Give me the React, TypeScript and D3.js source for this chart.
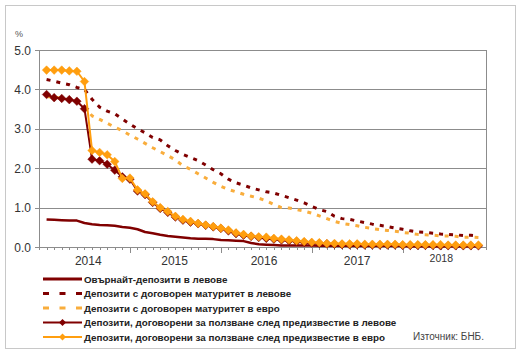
import React from "react";
import * as d3 from "d3";

// Months: Jan 2014 .. Oct 2018 (58 monthly observations)
const months: Date[] = d3.timeMonths(new Date(2014, 0, 1), new Date(2018, 10, 1));

const overnightBGN = [
  0.70, 0.69, 0.68, 0.67, 0.67, 0.61, 0.58, 0.56, 0.55, 0.54, 0.51, 0.49,
  0.45, 0.38, 0.35, 0.31, 0.28, 0.26, 0.24, 0.22, 0.21, 0.21, 0.20, 0.18,
  0.17, 0.16, 0.15, 0.10, 0.07, 0.06, 0.05, 0.04, 0.04, 0.04, 0.04, 0.04,
  0.03, 0.03, 0.03, 0.03, 0.03, 0.03, 0.03, 0.03, 0.03, 0.03, 0.03, 0.03,
  0.02, 0.02, 0.02, 0.02, 0.02, 0.02, 0.02, 0.02, 0.02, 0.02,
];

const termBGN = [
  4.25, 4.21, 4.16, 4.12, 4.05, 4.00, 3.75, 3.55, 3.45, 3.38, 3.25, 3.12,
  3.00, 2.90, 2.78, 2.72, 2.57, 2.45, 2.35, 2.27, 2.19, 2.08, 1.96, 1.86,
  1.72, 1.63, 1.57, 1.50, 1.45, 1.40, 1.37, 1.31, 1.25, 1.19, 1.12, 1.03,
  0.95, 0.90, 0.78, 0.72, 0.70, 0.66, 0.62, 0.58, 0.55, 0.52, 0.48, 0.45,
  0.41, 0.38, 0.37, 0.35, 0.33, 0.32, 0.31, 0.29, 0.30, 0.28,
];

const termEUR = [
  3.82, 3.80, 3.78, 3.74, 3.72, 3.55, 3.33, 3.24, 3.14, 3.04, 2.95, 2.84,
  2.74, 2.63, 2.52, 2.42, 2.32, 2.21, 2.06, 1.97, 1.86, 1.75, 1.64, 1.54,
  1.46, 1.40, 1.34, 1.29, 1.24, 1.17, 1.08, 1.00, 0.99, 0.95, 0.91, 0.86,
  0.79, 0.72, 0.65, 0.60, 0.57, 0.54, 0.50, 0.47, 0.44, 0.42, 0.40, 0.37,
  0.35, 0.32, 0.31, 0.30, 0.28, 0.28, 0.27, 0.25, 0.25, 0.24,
];

const noticeBGN = [
  3.87, 3.79, 3.77, 3.74, 3.70, 3.51, 2.23, 2.19, 2.10, 1.95, 1.78, 1.72,
  1.42, 1.33, 1.13, 0.98, 0.88, 0.76, 0.68, 0.63, 0.59, 0.55, 0.51, 0.47,
  0.41, 0.34, 0.30, 0.27, 0.24, 0.22, 0.20, 0.18, 0.16, 0.14, 0.12, 0.10,
  0.09, 0.08, 0.07, 0.06, 0.06, 0.06, 0.05, 0.05, 0.05, 0.05, 0.05, 0.04,
  0.04, 0.04, 0.04, 0.04, 0.03, 0.03, 0.03, 0.03, 0.03, 0.03,
];

const noticeEUR = [
  4.49, 4.49, 4.49, 4.47, 4.46, 4.20, 2.45, 2.40, 2.34, 2.17, 1.74, 1.75,
  1.45, 1.35, 1.15, 1.00, 0.90, 0.78, 0.70, 0.65, 0.60, 0.56, 0.52, 0.48,
  0.43, 0.36, 0.32, 0.28, 0.26, 0.25, 0.22, 0.20, 0.18, 0.16, 0.14, 0.12,
  0.11, 0.09, 0.09, 0.08, 0.08, 0.08, 0.07, 0.07, 0.07, 0.07, 0.07, 0.06,
  0.06, 0.06, 0.06, 0.06, 0.06, 0.05, 0.05, 0.05, 0.05, 0.05,
];

const yTicks = [0, 1, 2, 3, 4, 5];
const yearLabels = ["2014", "2015", "2016", "2017", "2018"];
const yearLabelPos = [5.5, 16.9, 28.7, 41.0, 52.1]; // in month-index units

const legendNames = [
  "Овърнайт-депозити в левове",
  "Депозити с договорен матуритет в левове",
  "Депозити с договорен матуритет в евро",
  "Депозити, договорени за ползване след предизвестие в левове",
  "Депозити, договорени за ползване след предизвестие в евро",
];

const DARK = "#800000";
const ORANGE = "#ff9e0f";
const ORANGE_D = "#f9ad3c";
const FONT = "Arial, 'Liberation Sans', sans-serif";

export default function App() {
  const W = 524, H = 358;
  const left = 39, right = 486, top = 50, bottom = 247;
  const x = d3.scaleLinear().domain([-1, months.length]).range([left, right]);
  const y = d3.scaleLinear().domain([0, 5]).range([bottom, top]);
  const line = d3.line<number>().x((_, i) => x(i)).y((d) => y(d));

  const series = [
    { data: overnightBGN, color: DARK, dash: undefined, width: 2.5, marker: false },
    { data: termBGN, color: DARK, dash: "4,6", width: 3, marker: false },
    { data: termEUR, color: ORANGE_D, dash: "4,6", width: 3, marker: false },
    { data: noticeBGN, color: DARK, dash: undefined, width: 2, marker: true },
    { data: noticeEUR, color: ORANGE, dash: undefined, width: 2, marker: true },
  ];

  const diamond = (cx: number, cy: number, r: number) =>
    `M${cx},${cy - r}L${cx + r},${cy}L${cx},${cy + r}L${cx - r},${cy}Z`;

  const tickIdx = d3.range(-1, months.length + 1);

  const legendY = [279, 293.5, 308, 322.5, 337];

  return (
    <svg width={W} height={H} style={{ position: "absolute", left: 0, top: 0 }} fontFamily={FONT}>
      <rect x={0} y={0} width={W} height={H} fill="#fff" />
      <rect x={5.5} y={5.5} width={510} height={343} fill="#fff" stroke="#c8c8c8" />
      {/* gridlines */}
      {yTicks.filter((t) => t > 0).map((t) => (
        <line key={t} x1={left} x2={right} y1={Math.round(y(t)) + 0.5} y2={Math.round(y(t)) + 0.5} stroke="#8c8c8c" strokeWidth={1} />
      ))}
      <line x1={right + 0.5} x2={right + 0.5} y1={top} y2={bottom} stroke="#8c8c8c" />
      {/* y axis */}
      <line x1={left + 0.5} x2={left + 0.5} y1={top} y2={bottom + 1} stroke="#8c8c8c" />
      {yTicks.map((t) => (
        <g key={t}>
          <line x1={left - 4} x2={left} y1={Math.round(y(t)) + 0.5} y2={Math.round(y(t)) + 0.5} stroke="#8c8c8c" />
          <text x={31} y={y(t) + 4.5} fontSize={12} textAnchor="end" fill="#333">{t.toFixed(1)}</text>
        </g>
      ))}
      <text x={15} y={37} fontSize={9} fill="#555">%</text>
      {/* x axis */}
      <line x1={left} x2={right} y1={bottom + 0.5} y2={bottom + 0.5} stroke="#8c8c8c" />
      {tickIdx.map((i) => {
        const px = Math.round(x(i)) + 0.5;
        const major = (i + 1) % 12 === 0 && i > -1 && i < months.length;
        return <line key={i} x1={px} x2={px} y1={bottom} y2={bottom + (major ? 6 : 3)} stroke="#8c8c8c" />;
      })}
      {yearLabels.map((l, k) => (
        <text key={l} x={x(yearLabelPos[k])} y={k === 4 ? 262 : 265} fontSize={k === 4 ? 10.5 : 12} textAnchor="middle" fill="#333">{l}</text>
      ))}
      {/* series */}
      {series.map((s, k) => (
        <g key={k}>
          <path d={line(s.data) || ""} fill="none" stroke={s.color} strokeWidth={s.width} strokeDasharray={s.dash} strokeLinejoin="round" />
          {s.marker && s.data.map((d, i) => (
            <path key={i} d={diamond(x(i), y(d), 4.3)} fill={s.color} stroke={s.color} strokeWidth={0.5} />
          ))}
        </g>
      ))}
      {/* legend */}
      {series.map((s, k) => (
        <g key={k}>
          <line x1={43} x2={82} y1={legendY[k]} y2={legendY[k]} stroke={s.color} strokeWidth={s.marker ? 2 : 3}
            strokeDasharray={s.dash ? "6,10.5" : undefined} />
          {s.marker && <path d={diamond(62.5, legendY[k], 3.5)} fill={s.color} />}
          <text x={84} y={legendY[k] + 3.5} fontSize={9.8} fontWeight="bold" fill="#222">{legendNames[k]}</text>
        </g>
      ))}
      <text x={413} y={340} fontSize={10} fill="#444">Източник: БНБ.</text>
    </svg>
  );
}
